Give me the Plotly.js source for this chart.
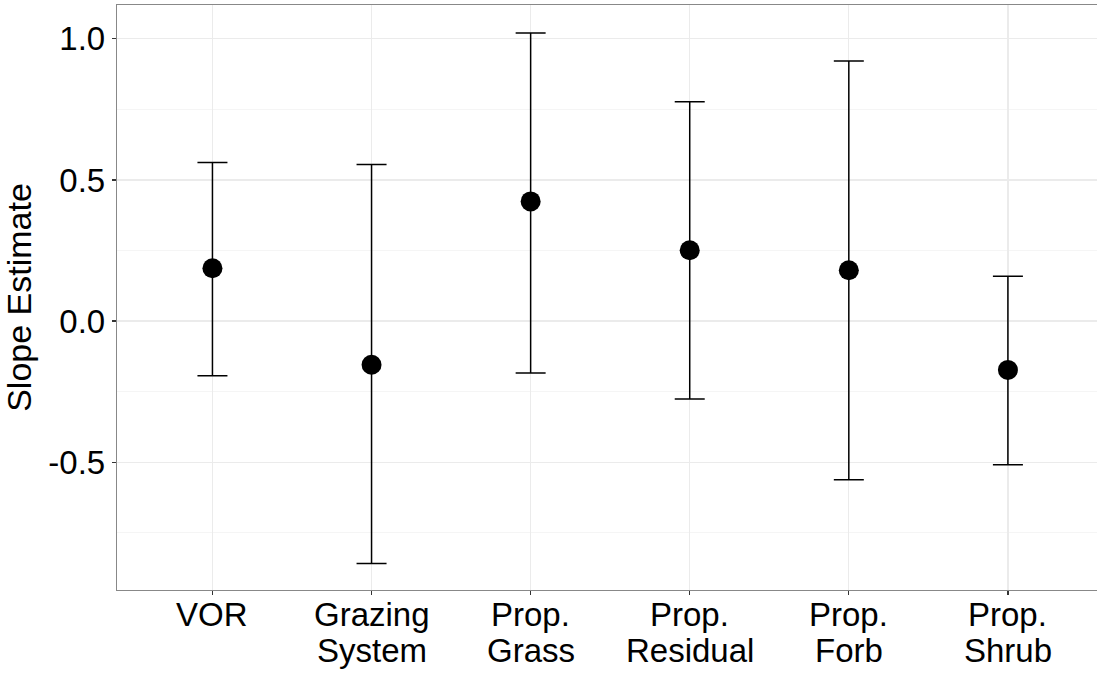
<!DOCTYPE html>
<html>
<head>
<meta charset="utf-8">
<script src="https://cdn.plot.ly/plotly-3.0.1.min.js"></script>
<style>html,body{margin:0;padding:0;background:#fff;}#chart{width:1097px;height:676px;}</style>
</head>
<body>
<div id="chart"></div>
<script>
const categories = ["VOR", "Grazing<br>System", "Prop.<br>Grass", "Prop.<br>Residual", "Prop.<br>Forb", "Prop.<br>Shrub"];
const estimates = [0.187, -0.155, 0.424, 0.251, 0.180, -0.173];
const upper = [0.562, 0.555, 1.021, 0.777, 0.922, 0.159];
const lower = [-0.194, -0.859, -0.184, -0.276, -0.562, -0.509];
const yTickVals = [-0.5, 0.0, 0.5, 1.0];
const yTickText = ["-0.5", "0.0", "0.5", "1.0"];
const yMinorVals = [-0.75, -0.25, 0.25, 0.75];

const xIdx = categories.map((c, i) => i);
const errPlus = upper.map((u, i) => u - estimates[i]);
const errMinus = lower.map((l, i) => estimates[i] - l);

const fam = "Liberation Sans, Arial, sans-serif";
const labelSize = 33;

const trace = {
  type: "scatter",
  mode: "markers",
  x: xIdx,
  y: estimates,
  marker: {color: "#000000", size: 20},
  error_y: {
    type: "data", symmetric: false,
    array: errPlus, arrayminus: errMinus,
    color: "#000000", thickness: 1.5, width: 15
  },
  showlegend: false,
  hoverinfo: "skip"
};

// category labels (two lines each, tighter line spacing than Plotly's default)
const lineShifts = [-24.6, -60.3];
const annotations = [];
categories.forEach((c, i) => {
  c.split("<br>").forEach((line, k) => {
    annotations.push({
      x: i, xref: "x", y: 0, yref: "paper",
      yshift: lineShifts[k], xanchor: "center", yanchor: "middle",
      text: line, showarrow: false,
      font: {family: fam, size: labelSize, color: "#000000"}
    });
  });
});

const layout = {
  width: 1097, height: 676,
  margin: {l: 117, r: 0, t: 5, b: 86, pad: 0},
  paper_bgcolor: "#ffffff",
  plot_bgcolor: "#ffffff",
  font: {family: fam, color: "#000000"},
  showlegend: false,
  xaxis: {
    range: [-0.6, 5.56],
    tickmode: "array",
    tickvals: xIdx,
    showticklabels: false,
    showgrid: true, gridcolor: "#ebebeb", gridwidth: 1.2,
    zeroline: false,
    showline: true, linecolor: "#888888", linewidth: 1.2, mirror: true,
    ticks: "outside", ticklen: 4, tickcolor: "#333333", tickwidth: 1.2
  },
  yaxis: {
    range: [-0.953, 1.12],
    tickmode: "array",
    tickvals: yTickVals,
    ticktext: yTickText,
    tickfont: {family: fam, size: labelSize, color: "#000000"},
    showgrid: true, gridcolor: "#ebebeb", gridwidth: 1.2,
    minor: {tickmode: "array", tickvals: yMinorVals, showgrid: true, gridcolor: "#f5f5f5", gridwidth: 1, ticks: ""},
    zeroline: false,
    showline: true, linecolor: "#888888", linewidth: 1.2, mirror: false,
    ticks: "outside", ticklen: 4, tickcolor: "#333333", tickwidth: 1.2,
    title: {text: "Slope Estimate", font: {family: fam, size: 34, color: "#000000"}, standoff: 8}
  },
  annotations: annotations,
  shapes: [{
    type: "line", xref: "paper", x0: 0, x1: 1, yref: "y", y0: 0, y1: 0,
    line: {color: "#000000", width: 1.5}, layer: "below"
  }]
};

Plotly.newPlot("chart", [trace], layout, {displayModeBar: false, staticPlot: true});
</script>
</body>
</html>
